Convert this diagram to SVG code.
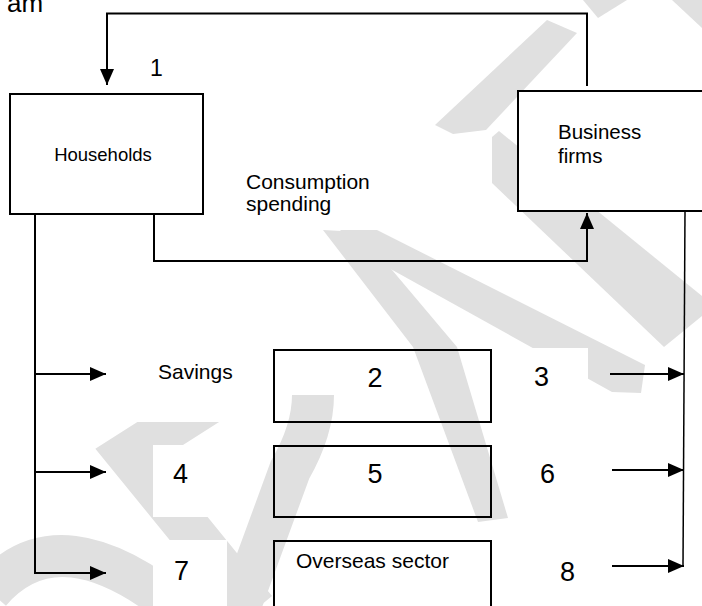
<svg xmlns="http://www.w3.org/2000/svg" width="702" height="606" viewBox="0 0 702 606">
<style>
.ln{fill:none;stroke:#000;stroke-width:2}
.thin{fill:none;stroke:#000;stroke-width:1.5}
.box{fill:none;stroke:#000;stroke-width:2}
.wbox{fill:#fff;stroke:#000;stroke-width:2}
.t{font-family:"Liberation Sans",Arial,sans-serif;fill:#000}
.wm{fill:#e0e0e0}
.wms{fill:none;stroke:#e0e0e0}
.bg{fill:#fff}
</style>
<defs>
<marker id="ah" viewBox="0 0 16 14" refX="16" refY="7" markerWidth="16" markerHeight="14" markerUnits="userSpaceOnUse" orient="auto"><path d="M0,0 L16,7 L0,14 z" fill="#000"/></marker>
</defs>
<rect width="702" height="606" fill="#fff"/>
<g id="watermark">
<polygon class="wm" points="583,0 627,0 598,18"/>
<polygon class="wm" points="672,0 702,0 702,28"/>
<polygon class="wm" points="547,20 577,33 486,130 453,134 435,125"/>
<polygon class="wm" points="492,137 499,131 702,296 702,316 664,347 492,183"/>
<polygon class="wm" points="323,230 360,232 457,347 508,518 478,522 413,347"/>
<polygon class="wm" points="340,230 377,230 645,365 641,393 612,392 360,252"/>
<path class="wms" stroke-width="42" d="M-10,592 Q60,510 185,615"/>
<path class="wms" stroke-width="44" d="M260,370 L128,454 L255,610"/>
<path class="wms" stroke-width="42" d="M235,620 L290,470 Q313,430 313,395"/>
</g>
<text class="t" x="7" y="12" font-size="26">am</text>
<g id="connectors">
<path class="ln" d="M587,86 V13.5 H107 V85" marker-end="url(#ah)"/>
<path class="ln" d="M154,214 V261 H587 V213" marker-end="url(#ah)"/>
<path class="ln" d="M35,214 V573"/>
<line class="ln" x1="35" y1="374" x2="106" y2="374" marker-end="url(#ah)"/>
<line class="ln" x1="35" y1="472" x2="106" y2="472" marker-end="url(#ah)"/>
<line class="ln" x1="34" y1="573" x2="106" y2="573" marker-end="url(#ah)"/>
<line class="thin" x1="685" y1="211" x2="683" y2="566"/>
<line class="ln" x1="610" y1="374" x2="684" y2="374" marker-end="url(#ah)"/>
<line class="ln" x1="612" y1="470" x2="684" y2="470" marker-end="url(#ah)"/>
<line class="ln" x1="612" y1="566" x2="684" y2="566" marker-end="url(#ah)"/>
</g>
<g id="label-1"><text class="t" x="150" y="76" font-size="23">1</text></g>
<g id="households">
<rect class="wbox" x="10" y="94" width="193" height="120"/>
<text class="t" x="103" y="161" font-size="18.5" text-anchor="middle">Households</text>
</g>
<g id="label-consumption">
<text class="t" x="246" y="189" font-size="21">Consumption</text>
<text class="t" x="246" y="211" font-size="21">spending</text>
</g>
<g id="business">
<rect class="wbox" x="518" y="91" width="190" height="120"/>
<text class="t" x="558" y="139" font-size="20.5">Business</text>
<text class="t" x="558" y="163" font-size="20.5">firms</text>
</g>
<g id="label-savings">
<rect class="bg" x="137" y="347" width="136" height="75"/>
<text class="t" x="158" y="379" font-size="21">Savings</text>
</g>
<g id="box-2">
<rect class="box" x="274" y="350" width="217" height="72"/>
<text class="t" x="375" y="387" font-size="27" text-anchor="middle">2</text>
</g>
<g id="label-3">
<rect class="bg" x="514" y="348" width="74" height="45"/>
<text class="t" x="534" y="386" font-size="27">3</text>
</g>
<g id="label-4">
<rect class="bg" x="153" y="445" width="74" height="72"/>
<text class="t" x="173" y="483" font-size="27">4</text>
</g>
<g id="box-5">
<rect class="box" x="274" y="446" width="217" height="71"/>
<text class="t" x="375" y="483" font-size="27" text-anchor="middle">5</text>
</g>
<g id="label-6"><text class="t" x="540" y="483" font-size="27">6</text></g>
<g id="label-7">
<rect class="bg" x="153" y="540" width="74" height="66"/>
<text class="t" x="174" y="580" font-size="27">7</text>
</g>
<g id="overseas">
<rect class="box" x="274" y="541" width="217" height="75"/>
<text class="t" x="296" y="568" font-size="21">Overseas sector</text>
</g>
<g id="label-8"><text class="t" x="560" y="581" font-size="27">8</text></g>
</svg>
